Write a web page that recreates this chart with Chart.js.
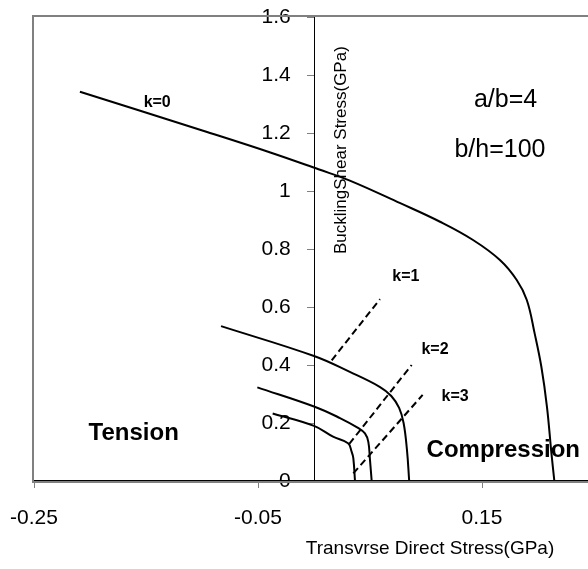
<!DOCTYPE html>
<html>
<head>
<meta charset="utf-8">
<script src="https://cdn.jsdelivr.net/npm/chart.js@4.4.1/dist/chart.umd.min.js"></script>
<style>
  html, body { margin: 0; padding: 0; background: #fff; overflow: hidden; }
  #wrap { width: 600px; height: 569px; }
</style>
</head>
<body>
<div id="wrap"><canvas id="myChart"></canvas></div>
<script>
// transverse direct stress (GPa) -> x, buckling shear stress (GPa) -> y
const xTicks = [-0.25, -0.05, 0.15];
const yTicks = [0, 0.2, 0.4, 0.6, 0.8, 1, 1.2, 1.4, 1.6];

const k0X = [-0.209, -0.158, -0.099, -0.039, 0.004, 0.032, 0.077, 0.1125, 0.142, 0.166, 0.181, 0.19, 0.197, 0.203, 0.208, 0.212, 0.2146];
const k0Y = [1.342, 1.28, 1.208, 1.133, 1.075, 1.036, 0.958, 0.894, 0.831, 0.762, 0.693, 0.624, 0.509, 0.394, 0.256, 0.095, 0];

const k1X = [-0.083, 0.0, 0.032, 0.059, 0.069, 0.076, 0.08, 0.083, 0.085];
const k1Y = [0.534, 0.431, 0.376, 0.324, 0.293, 0.252, 0.2, 0.107, 0];

const k2X = [-0.0506, 0.0, 0.0232, 0.0393, 0.0455, 0.0485, 0.05, 0.0515];
const k2Y = [0.323, 0.257, 0.217, 0.183, 0.164, 0.135, 0.072, 0];

const k3X = [-0.0369, 0.0, 0.017, 0.0304, 0.0336, 0.0351, 0.0366];
const k3Y = [0.233, 0.19, 0.153, 0.13, 0.101, 0.079, 0];

// dashed guide lines (start, end)
const d1X = [0.0158, 0.0589];
const d1Y = [0.416, 0.627];
const d2X = [0.0315, 0.0872];
const d2Y = [0.128, 0.4];
const d3X = [0.0351, 0.097];
const d3Y = [0.026, 0.297];

const FONT = "'Liberation Sans', Arial, sans-serif";

const pts = (xs, ys) => xs.map((x, i) => ({ x: x, y: ys[i] }));

const curve = (xs, ys) => ({
  data: pts(xs, ys),
  showLine: true,
  borderColor: "#000",
  borderWidth: 2,
  pointRadius: 0,
  tension: 0.4,
});

const dashed = (xs, ys) => ({
  data: pts(xs, ys),
  showLine: true,
  borderColor: "#000",
  borderWidth: 2,
  borderDash: [7, 4],
  pointRadius: 0,
});

// text put on the plot, in data coords
const notes = [
  { text: "k=0", x: -0.14, y: 1.304, font: "bold 16px " + FONT },
  { text: "k=1", x: 0.082, y: 0.704, font: "bold 16px " + FONT },
  { text: "k=2", x: 0.108, y: 0.452, font: "bold 16px " + FONT },
  { text: "k=3", x: 0.126, y: 0.291, font: "bold 16px " + FONT },
  { text: "a/b=4", x: 0.171, y: 1.314, font: "25px " + FONT },
  { text: "b/h=100", x: 0.166, y: 1.141, font: "25px " + FONT },
  { text: "Tension", x: -0.161, y: 0.164, font: "bold 24px " + FONT },
  { text: "Compression", x: 0.169, y: 0.107, font: "bold 24px " + FONT },
];

const extras = {
  id: "extras",
  beforeDatasetsDraw(chart) {
    const { ctx, chartArea: a } = chart;
    ctx.save();
    ctx.strokeStyle = "#808080";
    ctx.lineWidth = 2;
    ctx.strokeRect(a.left - 1, a.top - 1, a.right - a.left + 2, a.bottom - a.top + 2);
    ctx.restore();
  },
  afterDraw(chart) {
    const { ctx, chartArea: a } = chart;
    const xs = chart.scales.x;
    const ys = chart.scales.y;
    ctx.save();
    ctx.fillStyle = "#000";
    ctx.textAlign = "center";
    ctx.textBaseline = "middle";
    notes.forEach((n) => {
      ctx.font = n.font;
      ctx.fillText(n.text, xs.getPixelForValue(n.x), ys.getPixelForValue(n.y));
    });
    // axis titles
    ctx.font = "19px " + FONT;
    ctx.fillText("Transvrse Direct Stress(GPa)", xs.getPixelForValue(0.1036), a.bottom + 68);
    ctx.translate(xs.getPixelForValue(0.024), ys.getPixelForValue(1.141));
    ctx.rotate(-Math.PI / 2);
    ctx.font = "17px " + FONT;
    ctx.fillText("BucklingShear Stress(GPa)", 0, 0);
    ctx.restore();
  },
};

const ctx = document.getElementById("myChart");
new Chart(ctx, {
  type: "scatter",
  data: {
    datasets: [
      curve(k0X, k0Y),
      curve(k1X, k1Y),
      curve(k2X, k2Y),
      curve(k3X, k3Y),
      dashed(d1X, d1Y),
      dashed(d2X, d2Y),
      dashed(d3X, d3Y),
    ],
  },
  options: {
    responsive: true,
    maintainAspectRatio: false,
    animation: false,
    layout: { padding: { left: 34, right: 6, top: 17, bottom: 0 } },
    plugins: { legend: { display: false }, tooltip: { enabled: false } },
    scales: {
      x: {
        type: "linear",
        position: "bottom",
        min: -0.25,
        max: 0.25,
        afterBuildTicks: (scale) => {
          scale.ticks = xTicks.map((v) => ({ value: v }));
        },
        afterFit: (scale) => {
          scale.height = 88;
        },
        grid: { drawOnChartArea: false, tickLength: 7, tickColor: "#808080" },
        border: { color: "#000", width: 2 },
        ticks: {
          padding: 3,
          color: "#000",
          font: { family: FONT, size: 21, lineHeight: 2.57 },
          maxRotation: 0,
          callback: (v) => Number(v).toFixed(2),
        },
      },
      y: {
        type: "linear",
        position: { x: 0 },
        min: 0,
        max: 1.6,
        afterBuildTicks: (scale) => {
          scale.ticks = yTicks.map((v) => ({ value: v }));
        },
        grid: { drawOnChartArea: false, tickLength: 7, tickColor: "#808080" },
        border: { color: "#000", width: 1 },
        ticks: {
          color: "#000",
          font: { family: FONT, size: 21 },
          callback: (v) => String(+Number(v).toFixed(1)) + "    ",
        },
      },
    },
  },
  plugins: [extras],
});
</script>
</body>
</html>
